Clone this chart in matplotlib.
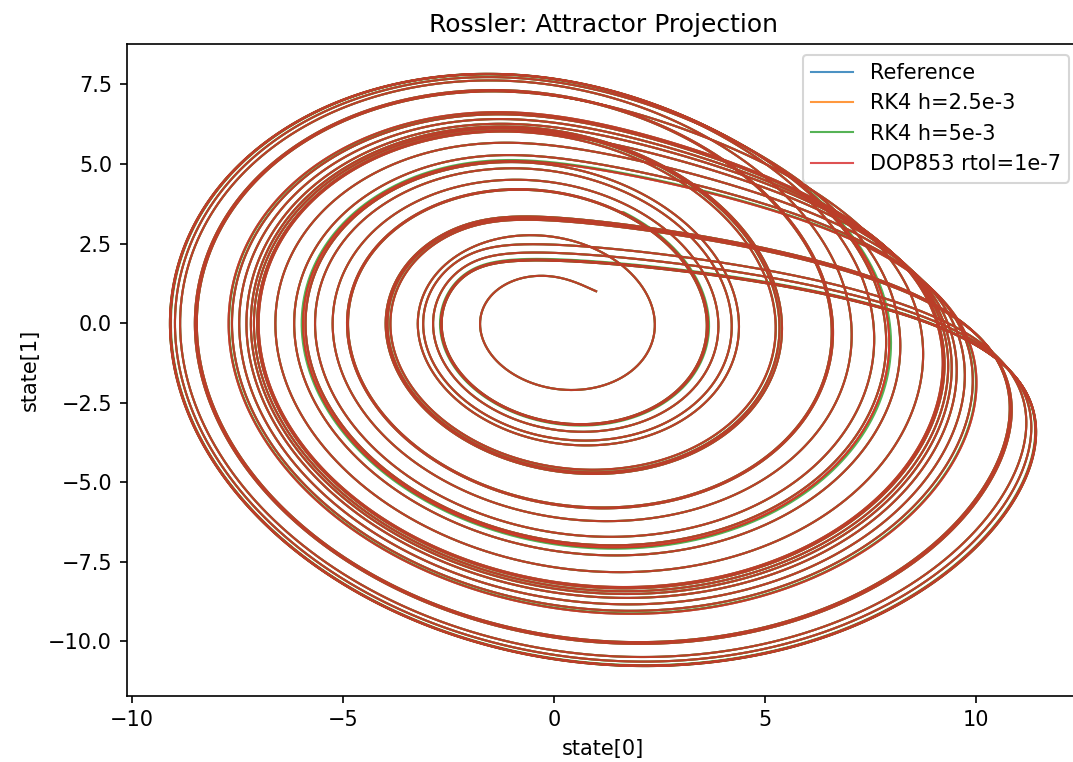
import matplotlib
matplotlib.use("Agg")
import matplotlib.pyplot as plt
import numpy as np

# Rossler system parameters and run settings
params = [0.2, 0.2, 5.7]          # a, b, c
initial_state = [1.0, 1.0, 1.0]
t_end = 200.0
labels = ["Reference", "RK4 h=2.5e-3", "RK4 h=5e-3", "DOP853 rtol=1e-7"]
step_sizes = [1e-3, 2.5e-3, 5e-3, 1.25e-3]


def rossler(x, y, z, a, b, c):
    return -y - z, x + a * y, b + z * (x - c)


def rk4(state, h, t_end, p):
    a, b, c = p
    n = int(round(t_end / h))
    xs = np.empty(n + 1)
    ys = np.empty(n + 1)
    x, y, z = state
    xs[0], ys[0] = x, y
    for i in range(n):
        k1 = rossler(x, y, z, a, b, c)
        k2 = rossler(x + 0.5 * h * k1[0], y + 0.5 * h * k1[1], z + 0.5 * h * k1[2], a, b, c)
        k3 = rossler(x + 0.5 * h * k2[0], y + 0.5 * h * k2[1], z + 0.5 * h * k2[2], a, b, c)
        k4 = rossler(x + h * k3[0], y + h * k3[1], z + h * k3[2], a, b, c)
        x += h / 6 * (k1[0] + 2 * k2[0] + 2 * k3[0] + k4[0])
        y += h / 6 * (k1[1] + 2 * k2[1] + 2 * k3[1] + k4[1])
        z += h / 6 * (k1[2] + 2 * k2[2] + 2 * k3[2] + k4[2])
        xs[i + 1], ys[i + 1] = x, y
    return xs, ys


fig = plt.figure(figsize=(1073 / 150, 762 / 150), dpi=150)
ax = fig.add_axes([0.118, 0.087, 0.888, 0.855])

for label, h in zip(labels, step_sizes):
    xs, ys = rk4(initial_state, h, t_end, params)
    ax.plot(xs, ys, lw=1, alpha=0.8, label=label)

ax.set_title("Rossler: Attractor Projection")
ax.set_xlabel("state[0]")
ax.set_ylabel("state[1]")
ax.legend(loc="upper right")

plt.savefig("out.png", dpi=150)
plt.close()
